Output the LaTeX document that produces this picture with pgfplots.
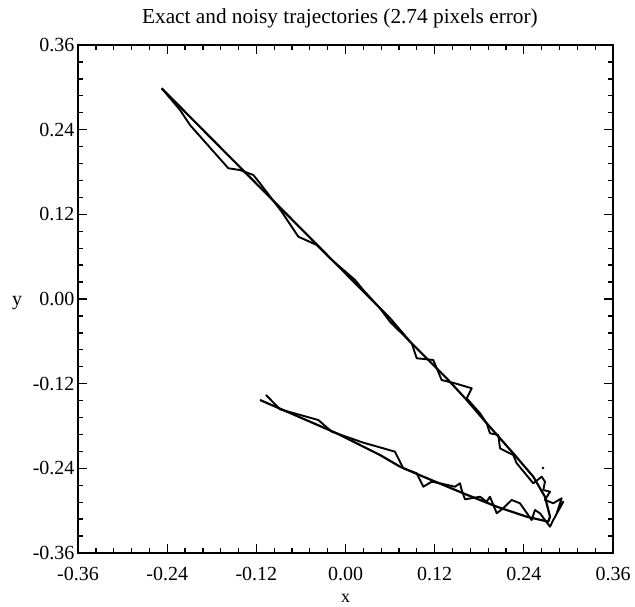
\documentclass[border=0pt]{standalone}
\usepackage{fontspec}
\setmainfont{Liberation Serif}
\usepackage{pgfplots}
\pgfplotsset{compat=1.18}

% exact trajectory
\pgfplotstableread{
x y
-0.2474 0.2986
0.0599 -0.0273
0.0868 -0.0605
0.1362 -0.1124
0.1631 -0.1431
0.1900 -0.1761
0.2258 -0.2187
0.2527 -0.2518
0.2684 -0.2802
0.2752 -0.3085
0.2729 -0.3156
0.2438 -0.3085
0.2035 -0.2943
0.1585 -0.2754
0.1047 -0.2518
0.0733 -0.2376
0.0464 -0.2211
-0.0119 -0.1903
-0.1151 -0.1431
}\exact

% noisy trajectory
\pgfplotstableread{
x y
-0.2474 0.2986
-0.2227 0.2679
-0.2093 0.2466
-0.1577 0.1853
-0.1420 0.1828
-0.1241 0.1758
-0.1151 0.1640
-0.0859 0.1237
-0.0635 0.0883
-0.0388 0.0766
-0.0209 0.0577
0.0128 0.0270
0.0239 0.0128
0.0464 -0.0132
0.0599 -0.0322
0.0891 -0.0628
0.0958 -0.0840
0.1181 -0.0864
0.1294 -0.1148
0.1473 -0.1195
0.1698 -0.1265
0.1631 -0.1407
0.1810 -0.1620
0.1900 -0.1761
0.1944 -0.1903
0.2056 -0.1927
0.2079 -0.2116
0.2258 -0.2211
0.2304 -0.2328
0.2527 -0.2612
0.2640 -0.2518
0.2684 -0.2589
0.2662 -0.2707
0.2752 -0.2731
0.2684 -0.2848
0.2796 -0.2895
0.2909 -0.2824
0.2842 -0.3037
0.2931 -0.2873
0.2796 -0.3132
0.2752 -0.3227
0.2617 -0.3037
0.2550 -0.2990
0.2505 -0.3132
0.2348 -0.2895
0.2236 -0.2848
0.2123 -0.2966
0.2035 -0.3037
0.1944 -0.2802
0.1900 -0.2873
0.1810 -0.2802
0.1608 -0.2839
0.1563 -0.2707
0.1541 -0.2612
0.1473 -0.2660
0.1271 -0.2612
0.1160 -0.2589
0.1047 -0.2660
0.0958 -0.2470
0.0778 -0.2399
0.0666 -0.2164
0.0508 -0.2116
0.0239 -0.2036
-0.0186 -0.1880
-0.0366 -0.1715
-0.0882 -0.1563
-0.1070 -0.1360
}\noisy

\begin{document}
\begin{tikzpicture}
\begin{axis}[
  scale only axis, width=535pt, height=508pt,
  xmin=-0.36, xmax=0.36, ymin=-0.36, ymax=0.36,
  xtick={-0.36,-0.24,-0.12,0,0.12,0.24,0.36},
  ytick={-0.36,-0.24,-0.12,0,0.12,0.24,0.36},
  xticklabels={-0.36,-0.24,-0.12,0.00,0.12,0.24,0.36},
  yticklabels={-0.36,-0.24,-0.12,0.00,0.12,0.24,0.36},
  minor tick num=4,
  tick align=inside,
  major tick length=9pt, minor tick length=5pt,
  every tick/.style={black, line width=1.3pt},
  axis line style={line width=1.6pt},
  tick label style={font=\fontsize{20}{22}\selectfont},
  xticklabel style={inner sep=1pt, yshift=-13pt},
  clip=false,
]
\addplot[black, line width=2.2pt, line join=round] table {\exact};
\addplot[black, line width=1.9pt, line join=round] table {\noisy};
\addplot[black, only marks, mark=*, mark size=1.1pt] coordinates {(0.2657,-0.2395)};

\node[font=\fontsize{21.3}{24}\selectfont] at (axis cs:-0.0075,0.3975) {Exact and noisy trajectories (2.74 pixels error)};
\node[font=\fontsize{18}{20}\selectfont, inner sep=0.5pt] at (axis cs:0,-0.4237) {x};
\node[font=\fontsize{20}{22}\selectfont, anchor=base] at (axis cs:-0.4421,-0.0093) {y};

\coordinate (bl) at (axis cs:-0.465,-0.4365);
\coordinate (tr) at (axis cs:0.3896,0.4238);
\end{axis}
\pgfresetboundingbox
\path (bl) rectangle (tr);
\end{tikzpicture}
\end{document}
